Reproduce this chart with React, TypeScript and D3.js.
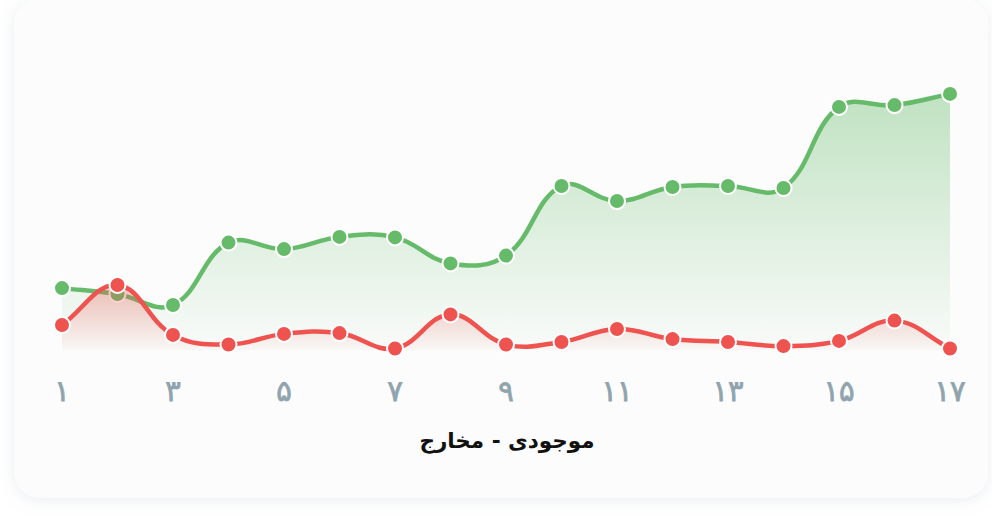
import React from "react";
import * as d3 from "d3";

const categories = ["۱","۲","۳","۴","۵","۶","۷","۸","۹","۱۰","۱۱","۱۲","۱۳","۱۴","۱۵","۱۶","۱۷"];
const balanceValues = [23.8,21.5,17.3,41.3,38.8,43.5,43.3,33.3,36.3,63.1,57.3,62.7,63.1,62.3,93.5,94.2,98.5];
const expenseValues = [9.6,25.0,5.8,2.1,6.2,6.5,0.6,13.7,2.1,3.1,8.1,4.2,3.1,1.5,3.5,11.3,0.6];
const tickLabels = ["۱","۳","۵","۷","۹","۱۱","۱۳","۱۵","۱۷"];
const title = "موجودی - مخارج";

const W = 992, H = 530;
const xLeft = 62, xRight = 950, yTop = 90, yBottom = 350;

type P = { x: number; y: number };

function splinePath(pts: P[], t: number, close?: number): string {
  const p = d3.path();
  const cps = pts.map((cur, i) => {
    const prev = pts[i - 1] || cur;
    const next = pts[i + 1] || cur;
    const d01 = Math.hypot(cur.x - prev.x, cur.y - prev.y);
    const d12 = Math.hypot(next.x - cur.x, next.y - cur.y);
    let s01 = d01 / (d01 + d12);
    let s12 = d12 / (d01 + d12);
    if (isNaN(s01)) s01 = 0;
    if (isNaN(s12)) s12 = 0;
    const fa = t * s01, fb = t * s12;
    return {
      px: cur.x - fa * (next.x - prev.x),
      py: cur.y - fa * (next.y - prev.y),
      nx: cur.x + fb * (next.x - prev.x),
      ny: cur.y + fb * (next.y - prev.y),
    };
  });
  p.moveTo(pts[0].x, pts[0].y);
  for (let i = 1; i < pts.length; i++) {
    p.bezierCurveTo(cps[i - 1].nx, cps[i - 1].ny, cps[i].px, cps[i].py, pts[i].x, pts[i].y);
  }
  if (close !== undefined) {
    p.lineTo(pts[pts.length - 1].x, close);
    p.lineTo(pts[0].x, close);
    p.closePath();
  }
  return p.toString();
}

export default function App() {
  const x = d3.scaleLinear().domain([0, categories.length - 1]).range([xLeft, xRight]);
  const y = d3.scaleLinear().domain([0, 100]).range([yBottom, yTop]);
  const gPts = balanceValues.map((v, i) => ({ x: x(i), y: y(v) }));
  const rPts = expenseValues.map((v, i) => ({ x: x(i), y: y(v) }));
  const green = "#66bb6a";
  const red = "#ef5350";
  const font = "'DejaVu Sans', sans-serif";
  return (
    <svg width={W} height={H} style={{ position: "absolute", left: 0, top: 0, display: "block" }}>
      <defs>
        <filter id="sh" x="-10%" y="-10%" width="120%" height="120%">
          <feDropShadow dx="0" dy="2" stdDeviation="8" floodColor="#8a9ab0" floodOpacity="0.18" />
        </filter>
        <linearGradient id="gg" x1="0" y1="0" x2="0" y2="1">
          <stop offset="0" stopColor={green} stopOpacity={0.4} />
          <stop offset="1" stopColor={green} stopOpacity={0.02} />
        </linearGradient>
        <linearGradient id="rg" x1="0" y1="0" x2="0" y2="1">
          <stop offset="0" stopColor={red} stopOpacity={0.35} />
          <stop offset="1" stopColor={red} stopOpacity={0.02} />
        </linearGradient>
      </defs>
      <rect x={0} y={0} width={W} height={H} fill="#ffffff" />
      <rect x={14} y={-2} width={974} height={500} rx={26} fill="#fcfcfc" filter="url(#sh)" />
      <path d={splinePath(gPts, 0.4, yBottom)} fill="url(#gg)" />
      <path d={splinePath(gPts, 0.4)} fill="none" stroke={green} strokeWidth={4.5} />
      {gPts.map((p, i) => (
        <circle key={"g" + i} cx={p.x} cy={p.y} r={8} fill={green} stroke="#fff" strokeWidth={2} />
      ))}
      <path d={splinePath(rPts, 0.4, yBottom)} fill="url(#rg)" />
      <path d={splinePath(rPts, 0.4)} fill="none" stroke={red} strokeWidth={4.5} />
      {rPts.map((p, i) => (
        <circle key={"r" + i} cx={p.x} cy={p.y} r={8} fill={red} stroke="#fff" strokeWidth={2} />
      ))}
      {tickLabels.map((t, i) => (
        <text key={t} x={x(i * 2)} y={401} textAnchor="middle" fontFamily={font} fontSize={29} fontWeight={400} stroke="#90a4ae" strokeWidth={0.8} fill="#90a4ae">
          {t}
        </text>
      ))}
      <text x={507} y={448} textAnchor="middle" fontFamily={font} fontSize={21.5} fontWeight={700} fill="#111" direction="rtl">
        {title}
      </text>
    </svg>
  );
}
